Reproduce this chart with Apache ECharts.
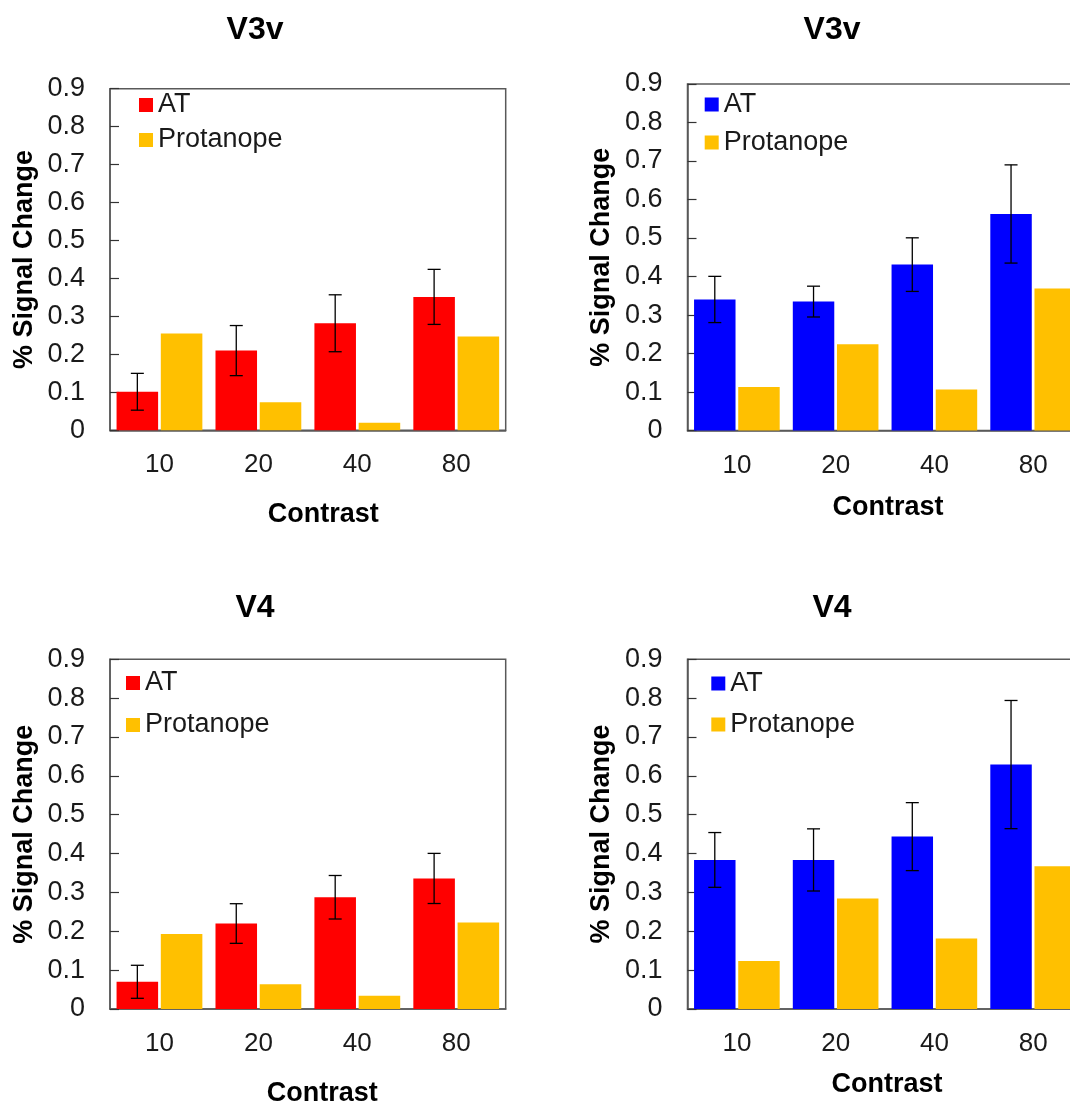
<!DOCTYPE html>
<html>
<head>
<meta charset="utf-8">
<script src="https://cdn.jsdelivr.net/npm/echarts@6/dist/echarts.min.js"></script>
<style>
  html, body { margin: 0; padding: 0; background: #ffffff; }
  #chart { width: 1070px; height: 1101px; }
</style>
</head>
<body>
<div id="chart"></div>
<script>
// Stimulus contrast levels (x categories)
const contrast = ['10', '20', '40', '80'];
const seriesNames = ['AT', 'Protanope'];
const panelTitles = ['V3v', 'V3v', 'V4', 'V4'];

// V3v, red panel
const v3vRedAT = [0.1015, 0.21, 0.282, 0.3515];
const v3vRedATErr = [0.0485, 0.066, 0.075, 0.0725];
const v3vRedProt = [0.255, 0.074, 0.020, 0.247];

// V3v, blue panel
const v3vBlueAT = [0.3405, 0.335, 0.431, 0.5625];
const v3vBlueATErr = [0.06, 0.04, 0.0696, 0.1275];
const v3vBlueProt = [0.113, 0.224, 0.107, 0.369];

// V4, red panel
const v4RedAT = [0.070, 0.220, 0.2876, 0.336];
const v4RedATErr = [0.0425, 0.051, 0.056, 0.0645];
const v4RedProt = [0.193, 0.064, 0.034, 0.2225];

// V4, blue panel
const v4BlueAT = [0.3835, 0.3835, 0.4435, 0.629];
const v4BlueATErr = [0.0705, 0.08, 0.0875, 0.165];
const v4BlueProt = [0.123, 0.284, 0.1815, 0.367];

const FONT = '"Liberation Sans", Arial, sans-serif';
const RED = '#FF0000', BLUE = '#0000FF', GOLD = '#FFC000';
const BAR_W = 0.42, BAR_GAP = 0.065;

const panels = [
  { title: panelTitles[0], at: v3vRedAT, err: v3vRedATErr, prot: v3vRedProt, color: RED,
    grid: { left: 110, top: 88.7, width: 395.7, height: 341.6 },
    titlePos: [250, 9], xNameGap: 71, xNameShift: 31,
    legend: { left: 139, top: 91.5, gap: 8 } },
  { title: panelTitles[1], at: v3vBlueAT, err: v3vBlueATErr, prot: v3vBlueProt, color: BLUE,
    grid: { left: 687.5, top: 84, width: 395, height: 346.6 },
    titlePos: [827, 9], xNameGap: 63, xNameShift: 6,
    legend: { left: 704.7, top: 91, gap: 11 } },
  { title: panelTitles[2], at: v4RedAT, err: v4RedATErr, prot: v4RedProt, color: RED,
    grid: { left: 110, top: 659.3, width: 395.7, height: 349.7 },
    titlePos: [250, 587], xNameGap: 71, xNameShift: 29,
    legend: { left: 126, top: 669.5, gap: 15 } },
  { title: panelTitles[3], at: v4BlueAT, err: v4BlueATErr, prot: v4BlueProt, color: BLUE,
    grid: { left: 687.5, top: 659.3, width: 395, height: 349.6 },
    titlePos: [827, 587], xNameGap: 62, xNameShift: 4,
    legend: { left: 711.3, top: 670, gap: 14 } }
];

const option = {
  animation: false,
  backgroundColor: '#ffffff',
  textStyle: { fontFamily: FONT },
  title: [], grid: [], xAxis: [], yAxis: [], legend: [], series: []
};

panels.forEach((p, i) => {
  option.title.push({
    text: p.title, left: p.titlePos[0], top: p.titlePos[1], textAlign: 'center',
    textStyle: { fontFamily: FONT, fontSize: 32, fontWeight: 'bold', color: '#000' }
  });
  option.grid.push(Object.assign({
    show: true, borderColor: '#595959', borderWidth: 1.5, backgroundColor: 'transparent',
    containLabel: false, outerBoundsMode: 'none'
  }, p.grid));
  option.xAxis.push({
    type: 'category', gridIndex: i, data: contrast,
    name: 'Contrast', nameLocation: 'middle', nameGap: p.xNameGap,
    nameTextStyle: { fontFamily: FONT, fontSize: 27, fontWeight: 'bold', color: '#000',
                     padding: [0, 0, 0, p.xNameShift] },
    axisLine: { show: true, lineStyle: { color: '#595959', width: 1.5 } },
    axisTick: { show: false },
    axisLabel: { fontFamily: FONT, fontSize: 26, color: '#1a1a1a', margin: 22 },
    splitLine: { show: false }
  });
  option.yAxis.push({
    type: 'value', gridIndex: i, min: 0, max: 0.9, interval: 0.1,
    name: '% Signal Change', nameLocation: 'middle', nameGap: 72, nameRotate: 90,
    nameTextStyle: { fontFamily: FONT, fontSize: 27, fontWeight: 'bold', color: '#000' },
    axisLine: { show: true, lineStyle: { color: '#595959', width: 1.5 } },
    axisTick: { show: true, inside: true, length: 9, lineStyle: { color: '#333', width: 1.2 } },
    axisLabel: { fontFamily: FONT, fontSize: 27, color: '#1a1a1a', margin: 25 },
    splitLine: { show: false }
  });
  option.legend.push({
    orient: 'vertical', left: p.legend.left, top: p.legend.top, padding: 0,
    itemGap: p.legend.gap, itemWidth: 14, itemHeight: 14, icon: 'rect',
    textStyle: { fontFamily: FONT, fontSize: 27, color: '#1a1a1a' },
    selectedMode: false,
    data: [
      { name: seriesNames[0], itemStyle: { color: p.color } },
      { name: seriesNames[1], itemStyle: { color: GOLD } }
    ]
  });
  option.series.push({
    type: 'bar', name: seriesNames[0], xAxisIndex: i, yAxisIndex: i, data: p.at,
    barWidth: (BAR_W * 100) + '%', barGap: (BAR_GAP * 100) + '%',
    itemStyle: { color: p.color }
  });
  option.series.push({
    type: 'bar', name: seriesNames[1], xAxisIndex: i, yAxisIndex: i, data: p.prot,
    barWidth: (BAR_W * 100) + '%', barGap: (BAR_GAP * 100) + '%',
    itemStyle: { color: GOLD }
  });
  // Standard-error whiskers on the AT bars
  option.series.push({
    type: 'custom', xAxisIndex: i, yAxisIndex: i, z: 5,
    data: p.at.map((v, k) => [k, v, p.err[k]]),
    renderItem: (params, api) => {
      const k = api.value(0), v = api.value(1), e = api.value(2);
      const band = api.size([1, 0])[0];
      const w = band * BAR_W;
      const dx = -(w + w * BAR_GAP) / 2;
      const hi = api.coord([k, v + e]);
      const lo = api.coord([k, v - e]);
      const x = hi[0] + dx, cap = 6.5;
      const style = { stroke: '#000', lineWidth: 1.3 };
      return {
        type: 'group',
        children: [
          { type: 'line', shape: { x1: x, y1: hi[1], x2: x, y2: lo[1] }, style },
          { type: 'line', shape: { x1: x - cap, y1: hi[1], x2: x + cap, y2: hi[1] }, style },
          { type: 'line', shape: { x1: x - cap, y1: lo[1], x2: x + cap, y2: lo[1] }, style }
        ]
      };
    }
  });
});

const chart = echarts.init(document.getElementById('chart'), null, { renderer: 'canvas' });
chart.setOption(option);
</script>
</body>
</html>
